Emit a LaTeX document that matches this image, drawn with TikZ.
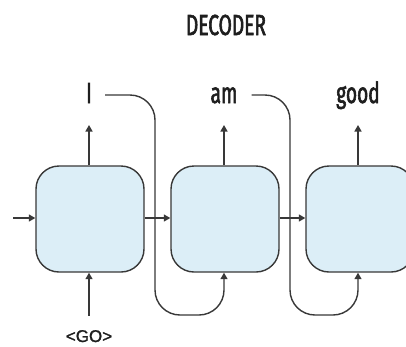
\documentclass[tikz,border=0pt]{standalone}
\usepackage{fontspec}
\setmainfont{Fira Sans}[FakeStretch=0.66, FakeBold=2]
\newfontfamily\gofont{Liberation Sans}[FakeBold=1.2]
\usetikzlibrary{arrows.meta}
\definecolor{cellfill}{HTML}{DCEEF7}
\definecolor{ink}{HTML}{383838}
\definecolor{txt}{HTML}{1E1E1E}
\begin{document}
\begin{tikzpicture}[x=1pt,y=-1pt,
  cell/.style={draw=ink, fill=cellfill, line width=1.4pt, rounded corners=23pt,
    minimum width=108pt, minimum height=106pt, inner sep=0pt},
  flow/.style={draw=ink, line width=1.4pt, -{Triangle[length=6.5pt,width=7pt]}},
  loop/.style={flow, rounded corners=25pt},
  word/.style={font=\fontsize{29}{29}\selectfont, text=txt, anchor=base,
    inner sep=2pt, text height=20pt, text depth=0pt},
  title/.style={font=\fontsize{29}{29}\selectfont, text=txt, anchor=base, inner sep=0pt},
  token/.style={font=\gofont\fontsize{17}{17}\selectfont, text=txt, anchor=base, inner sep=2pt}]
\useasboundingbox (0,0) rectangle (406,346);
\clip (0,0) rectangle (406,346);

% title
\node[title] (title) at (226,35) {DECODER};

% decoder cells
\node[cell] (c1) at (90,219) {};
\node[cell] (c2) at (225,219) {};
\node[cell] (c3) at (360,219) {};

% emitted words
\node[word] (w1) at (89,103) {I};
\node[word] (w2) at (224,103) {am};
\node[word] (w3) at (358,103) {good};

% start token
\node[token] (go) at (89,342) {<GO>};

% output arrow tips
\coordinate (o1) at (89,125);
\coordinate (o2) at (224,125);
\coordinate (o3) at (358,125);
\coordinate (in) at (13,218);

% outputs
\draw[flow] (c1.north -| o1) -- (o1);
\draw[flow] (c2.north -| o2) -- (o2);
\draw[flow] (c3.north -| o3) -- (o3);

% hidden state flow
\draw[flow] (in) -- (c1.west |- in);
\draw[flow] (c1.east |- in) -- (c2.west |- in);
\draw[flow] (c2.east |- in) -- (c3.west |- in);

% start token feeds the first cell
\draw[flow] ([yshift=12pt]go.north) -- (c1.south -| go);

% each word is fed back into the next cell
\draw[loop] ([shift={(11,2)}]w1.east) -| (155,315) -| (c2.south -| o2);
\draw[loop] ([shift={(12,2)}]w2.east) -| (290,315) -| (c3.south -| o3);
\end{tikzpicture}
\end{document}
